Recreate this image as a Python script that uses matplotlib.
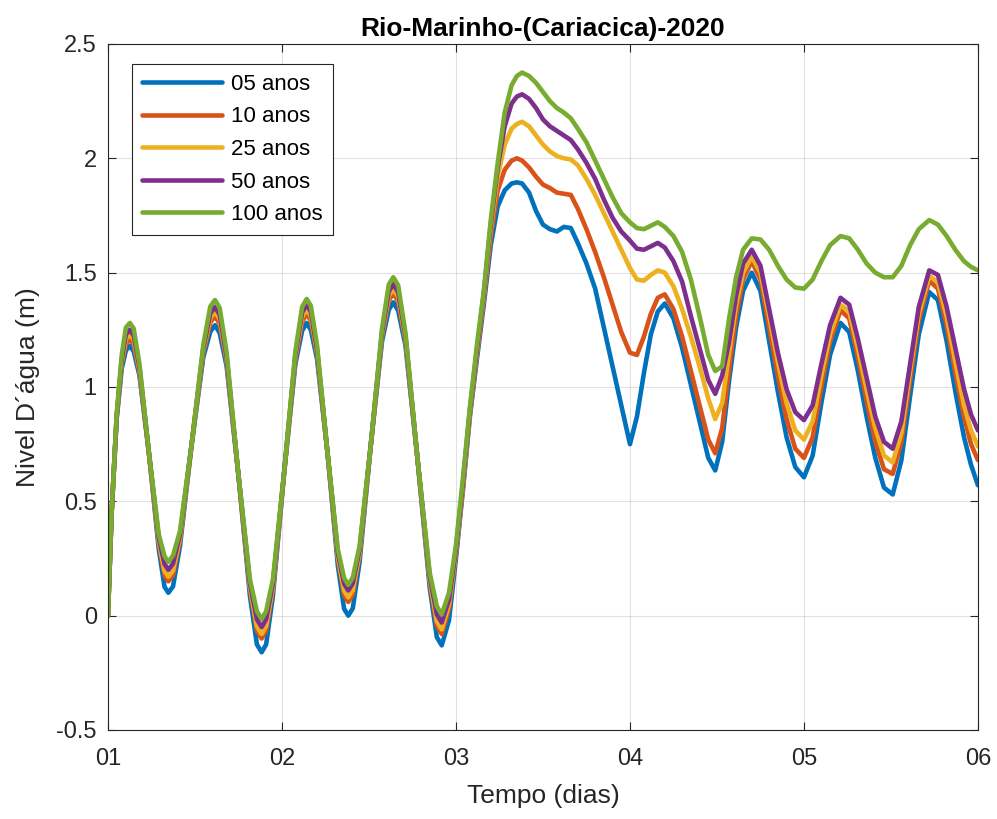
import numpy as np
import matplotlib.pyplot as plt

plt.rcParams['font.family'] = ['Liberation Sans', 'DejaVu Sans']

# tempo em dias (eixo x)
t_days = [
    1.000, 1.021, 1.050, 1.079, 1.103, 1.126,
    1.148, 1.181, 1.237, 1.292, 1.325, 1.347,
    1.374, 1.414, 1.481, 1.548, 1.588, 1.615,
    1.642, 1.682, 1.749, 1.816, 1.856, 1.883,
    1.909, 1.948, 2.013, 2.077, 2.116, 2.142,
    2.166, 2.202, 2.262, 2.321, 2.357, 2.381,
    2.407, 2.446, 2.511, 2.575, 2.614, 2.640,
    2.668, 2.710, 2.779, 2.849, 2.890, 2.918,
    2.960, 3.000, 3.040, 3.080, 3.120, 3.160, 3.200, 3.240, 3.280, 3.320, 3.350, 3.380,
    3.42, 3.46, 3.50, 3.54, 3.58, 3.62, 3.66, 3.70, 3.75, 3.80, 3.85, 3.90, 3.95, 4.00,
    4.04, 4.08, 4.12, 4.16, 4.20, 4.25, 4.30, 4.35, 4.40, 4.45, 4.49,
    4.53, 4.57, 4.61, 4.65, 4.70, 4.75, 4.80, 4.85, 4.90, 4.95, 5.00,
    5.05, 5.10, 5.15, 5.21, 5.26, 5.31, 5.36, 5.41, 5.46, 5.51,
    5.56, 5.61, 5.66, 5.72, 5.77, 5.82, 5.87, 5.92, 5.96, 6.00]

nivel_05 = [
    0.00, 0.45, 0.86, 1.08, 1.16, 1.18,
    1.155, 1.05, 0.70, 0.29, 0.126, 0.10,
    0.128, 0.305, 0.75, 1.13, 1.242, 1.27,
    1.236, 1.09, 0.62, 0.085, -0.126, -0.16,
    -0.126, 0.086, 0.63, 1.10, 1.246, 1.28,
    1.25, 1.12, 0.71, 0.22, 0.03, 0.00,
    0.032, 0.234, 0.75, 1.20, 1.338, 1.37,
    1.334, 1.18, 0.685, 0.123, -0.094, -0.13,
    -0.02, 0.25, 0.55, 0.87, 1.12, 1.36, 1.62, 1.79, 1.86, 1.89, 1.895, 1.89,
    1.85, 1.77, 1.71, 1.69, 1.68, 1.70, 1.695, 1.63, 1.54, 1.43, 1.26, 1.09, 0.92, 0.75,
    0.87, 1.06, 1.23, 1.33, 1.365, 1.30, 1.17, 1.01, 0.85, 0.69, 0.635,
    0.76, 1.03, 1.26, 1.42, 1.50, 1.42, 1.20, 0.98, 0.78, 0.65, 0.605,
    0.70, 0.93, 1.14, 1.28, 1.24, 1.07, 0.87, 0.69, 0.56, 0.53,
    0.68, 0.96, 1.23, 1.415, 1.38, 1.20, 0.98, 0.78, 0.66, 0.57]

nivel_10 = [
    0.00, 0.45, 0.87, 1.10, 1.19, 1.21,
    1.185, 1.065, 0.70, 0.315, 0.176, 0.15,
    0.178, 0.33, 0.75, 1.15, 1.282, 1.31,
    1.276, 1.11, 0.62, 0.115, -0.066, -0.10,
    -0.066, 0.116, 0.63, 1.12, 1.286, 1.32,
    1.29, 1.14, 0.71, 0.25, 0.09, 0.06,
    0.092, 0.264, 0.75, 1.22, 1.378, 1.41,
    1.374, 1.20, 0.685, 0.148, -0.044, -0.08,
    0.03, 0.27, 0.56, 0.88, 1.14, 1.38, 1.66, 1.86, 1.95, 1.99, 2.00, 1.99,
    1.96, 1.92, 1.885, 1.87, 1.85, 1.845, 1.84, 1.78, 1.69, 1.59, 1.48, 1.36, 1.24, 1.15,
    1.14, 1.22, 1.32, 1.39, 1.405, 1.34, 1.22, 1.07, 0.92, 0.77, 0.71,
    0.82, 1.08, 1.31, 1.47, 1.55, 1.47, 1.26, 1.05, 0.86, 0.73, 0.69,
    0.78, 1.00, 1.20, 1.335, 1.30, 1.13, 0.94, 0.76, 0.64, 0.62,
    0.76, 1.03, 1.29, 1.465, 1.43, 1.27, 1.06, 0.87, 0.75, 0.68]

nivel_25 = [
    0.00, 0.45, 0.87, 1.11, 1.21, 1.23,
    1.205, 1.075, 0.70, 0.325, 0.196, 0.17,
    0.198, 0.34, 0.75, 1.16, 1.302, 1.33,
    1.296, 1.12, 0.62, 0.125, -0.046, -0.08,
    -0.046, 0.126, 0.63, 1.13, 1.306, 1.34,
    1.31, 1.15, 0.71, 0.26, 0.11, 0.08,
    0.112, 0.274, 0.75, 1.23, 1.398, 1.43,
    1.394, 1.21, 0.685, 0.158, -0.024, -0.06,
    0.05, 0.28, 0.57, 0.89, 1.15, 1.40, 1.69, 1.92, 2.06, 2.13, 2.15, 2.16,
    2.14, 2.10, 2.06, 2.03, 2.01, 2.00, 1.995, 1.97, 1.91, 1.84, 1.76, 1.68, 1.60, 1.52,
    1.47, 1.465, 1.49, 1.51, 1.50, 1.44, 1.34, 1.22, 1.09, 0.95, 0.86,
    0.93, 1.15, 1.36, 1.50, 1.57, 1.50, 1.31, 1.11, 0.93, 0.81, 0.77,
    0.85, 1.05, 1.23, 1.36, 1.33, 1.17, 0.99, 0.82, 0.70, 0.67,
    0.80, 1.07, 1.32, 1.485, 1.46, 1.31, 1.11, 0.92, 0.81, 0.74]

nivel_50 = [
    0.00, 0.45, 0.87, 1.12, 1.23, 1.25,
    1.225, 1.085, 0.70, 0.34, 0.226, 0.20,
    0.228, 0.355, 0.75, 1.17, 1.322, 1.35,
    1.316, 1.13, 0.62, 0.14, -0.016, -0.05,
    -0.016, 0.141, 0.63, 1.14, 1.326, 1.36,
    1.33, 1.16, 0.71, 0.275, 0.14, 0.11,
    0.142, 0.289, 0.75, 1.24, 1.418, 1.45,
    1.414, 1.22, 0.685, 0.173, 0.006, -0.03,
    0.07, 0.29, 0.58, 0.90, 1.16, 1.41, 1.71, 1.96, 2.14, 2.24, 2.27, 2.28,
    2.26, 2.22, 2.17, 2.14, 2.12, 2.10, 2.08, 2.04, 1.98, 1.91, 1.82, 1.74, 1.68, 1.64,
    1.605, 1.60, 1.615, 1.63, 1.61, 1.55, 1.46, 1.31, 1.17, 1.03, 0.97,
    1.05, 1.20, 1.40, 1.54, 1.60, 1.53, 1.34, 1.15, 0.99, 0.89, 0.855,
    0.92, 1.10, 1.27, 1.39, 1.36, 1.21, 1.04, 0.87, 0.76, 0.73,
    0.85, 1.10, 1.35, 1.51, 1.49, 1.35, 1.17, 0.99, 0.88, 0.81]

nivel_100 = [
    0.00, 0.45, 0.88, 1.14, 1.26, 1.28,
    1.255, 1.10, 0.70, 0.355, 0.26, 0.235,
    0.263, 0.37, 0.75, 1.185, 1.352, 1.38,
    1.346, 1.15, 0.62, 0.158, 0.019, -0.015,
    0.019, 0.159, 0.63, 1.155, 1.351, 1.385,
    1.355, 1.18, 0.71, 0.29, 0.165, 0.135,
    0.167, 0.304, 0.75, 1.255, 1.448, 1.48,
    1.444, 1.235, 0.685, 0.188, 0.041, 0.005,
    0.10, 0.31, 0.60, 0.91, 1.18, 1.42, 1.73, 1.98, 2.20, 2.32, 2.36, 2.375,
    2.36, 2.33, 2.29, 2.25, 2.22, 2.20, 2.175, 2.13, 2.07, 1.99, 1.91, 1.83, 1.76, 1.72,
    1.695, 1.69, 1.705, 1.72, 1.70, 1.66, 1.59, 1.47, 1.31, 1.14, 1.07,
    1.09, 1.30, 1.48, 1.60, 1.65, 1.645, 1.60, 1.53, 1.47, 1.435, 1.43,
    1.47, 1.55, 1.62, 1.66, 1.65, 1.60, 1.54, 1.50, 1.48, 1.48,
    1.53, 1.62, 1.69, 1.73, 1.71, 1.66, 1.60, 1.55, 1.525, 1.51]

list_series = [nivel_05, nivel_10, nivel_25, nivel_50, nivel_100]
list_names = ['05 anos', '10 anos', '25 anos', '50 anos', '100 anos']
list_colors = ['#0072BD', '#D95319', '#EDB120', '#7E2F8E', '#77AC30']

x_ticks = [1, 2, 3, 4, 5, 6]
x_labels = ['01', '02', '03', '04', '05', '06']
y_ticks = [-0.5, 0, 0.5, 1, 1.5, 2, 2.5]
y_labels = ['-0.5', '0', '0.5', '1', '1.5', '2', '2.5']

fig = plt.figure(figsize=(9.97, 8.19), dpi=100)
ax = fig.add_axes([0.1083, 0.1087, 0.8726, 0.8376])

for serie, name, cor in zip(list_series, list_names, list_colors):
    ax.plot(t_days, serie, color=cor, lw=3.3, label=name,
            solid_joinstyle='round', solid_capstyle='round')

ax.set_xlim(1, 6)
ax.set_ylim(-0.5, 2.5)
ax.set_xticks(x_ticks)
ax.set_xticklabels(x_labels)
ax.set_yticks(y_ticks)
ax.set_yticklabels(y_labels)
ax.grid(True, color='#262626', alpha=0.13, lw=0.8)
ax.tick_params(direction='in', top=True, right=True, labelsize=17,
               colors='#262626', length=6, width=0.8)
ax.tick_params(axis='x', pad=13)
ax.tick_params(axis='y', pad=8)
for sp in ax.spines.values():
    sp.set_color('#262626')
    sp.set_linewidth(0.8)

ax.set_title('Rio-Marinho-(Cariacica)-2020', fontsize=19, fontweight='bold', pad=6)
ax.set_xlabel('Tempo (dias)', fontsize=19, color='#262626', labelpad=10)
ax.set_ylabel('Nivel D´água (m)', fontsize=19, color='#262626', labelpad=12)

leg = ax.legend(loc='upper left', bbox_to_anchor=(0.0276, 0.971), borderaxespad=0,
                fontsize=16, handlelength=3.6, handletextpad=0.4, labelspacing=0.52,
                fancybox=False, framealpha=1, edgecolor='#262626', borderpad=0.45)
leg.get_frame().set_linewidth(0.8)

plt.savefig('out.png', dpi=100)
